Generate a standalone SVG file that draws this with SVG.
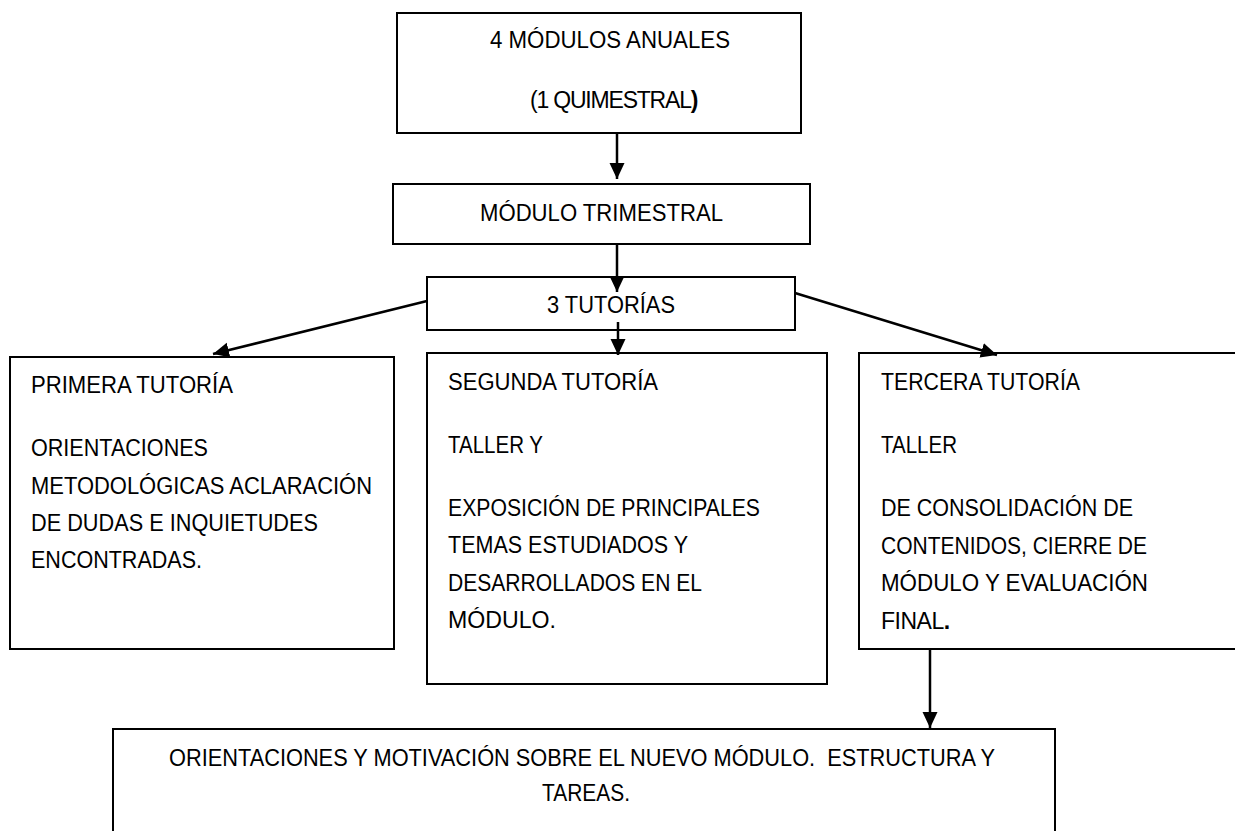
<svg xmlns="http://www.w3.org/2000/svg" width="1235" height="831" viewBox="0 0 1235 831">
<defs>
<style>
.box{fill:#fff;stroke:#000;stroke-width:2}
.t{font-family:"Liberation Sans",Arial,sans-serif;font-size:23px;fill:#000}
.b{font-weight:bold}
.c{fill:none;stroke:#000;stroke-width:2.5}
</style>
<marker id="ah" markerUnits="userSpaceOnUse" markerWidth="17" markerHeight="16" refX="16" refY="7.5" orient="auto">
<path d="M0,0 L16,7.5 L0,15 z" fill="#000"/>
</marker>
</defs>
<rect width="1235" height="831" fill="#fff"/>

<g id="n-anuales">
<rect class="box" x="397" y="13" width="404" height="120"/>
<text class="t" x="490" y="48" textLength="240" lengthAdjust="spacingAndGlyphs">4 MÓDULOS ANUALES</text>
<text class="t" x="530" y="108" letter-spacing="-1.2">(1 QUIMESTRAL<tspan class="b">)</tspan></text>
</g>

<g id="n-trimestral">
<rect class="box" x="393" y="184" width="417" height="60"/>
<text class="t" x="480" y="221" textLength="243" lengthAdjust="spacingAndGlyphs">MÓDULO TRIMESTRAL</text>
</g>

<g id="n-tutorias">
<rect class="box" x="427" y="277" width="368" height="53"/>
<text class="t" x="547" y="313" textLength="128" lengthAdjust="spacingAndGlyphs">3 TUTORÍAS</text>
</g>

<g id="n-primera">
<rect class="box" x="10" y="357" width="384" height="292"/>
<text class="t" x="31" y="393" textLength="202" lengthAdjust="spacingAndGlyphs">PRIMERA TUTORÍA</text>
<text class="t" x="31" y="456" textLength="177" lengthAdjust="spacingAndGlyphs">ORIENTACIONES</text>
<text class="t" x="31" y="494" textLength="341" lengthAdjust="spacingAndGlyphs">METODOLÓGICAS ACLARACIÓN</text>
<text class="t" x="31" y="531" textLength="287" lengthAdjust="spacingAndGlyphs">DE DUDAS E INQUIETUDES</text>
<text class="t" x="31" y="568" textLength="171" lengthAdjust="spacingAndGlyphs">ENCONTRADAS.</text>
</g>

<g id="n-segunda">
<rect class="box" x="427" y="353" width="400" height="331"/>
<text class="t" x="448" y="390" textLength="210" lengthAdjust="spacingAndGlyphs">SEGUNDA TUTORÍA</text>
<text class="t" x="448" y="453" textLength="95" lengthAdjust="spacingAndGlyphs">TALLER Y</text>
<text class="t" x="448" y="516" textLength="312" lengthAdjust="spacingAndGlyphs">EXPOSICIÓN DE PRINCIPALES</text>
<text class="t" x="448" y="553" textLength="240" lengthAdjust="spacingAndGlyphs">TEMAS ESTUDIADOS Y</text>
<text class="t" x="448" y="591" textLength="254" lengthAdjust="spacingAndGlyphs">DESARROLLADOS EN EL</text>
<text class="t" x="448" y="628" textLength="108" lengthAdjust="spacingAndGlyphs">MÓDULO.</text>
</g>

<g id="n-tercera">
<rect class="box" x="859" y="353" width="390" height="296"/>
<text class="t" x="881" y="390" textLength="199" lengthAdjust="spacingAndGlyphs">TERCERA TUTORÍA</text>
<text class="t" x="881" y="453" textLength="76" lengthAdjust="spacingAndGlyphs">TALLER</text>
<text class="t" x="881" y="516" textLength="252" lengthAdjust="spacingAndGlyphs">DE CONSOLIDACIÓN DE</text>
<text class="t" x="881" y="554" textLength="266" lengthAdjust="spacingAndGlyphs">CONTENIDOS, CIERRE DE</text>
<text class="t" x="881" y="591" textLength="267" lengthAdjust="spacingAndGlyphs">MÓDULO Y EVALUACIÓN</text>
<text class="t" x="881" y="629" letter-spacing="-0.5">FINAL<tspan class="b">.</tspan></text>
</g>

<g id="n-nuevo">
<rect class="box" x="113" y="729" width="942" height="120"/>
<text class="t" x="169" y="766" textLength="826" lengthAdjust="spacingAndGlyphs" xml:space="preserve">ORIENTACIONES Y MOTIVACIÓN SOBRE EL NUEVO MÓDULO.  ESTRUCTURA Y</text>
<text class="t" x="542" y="801" textLength="88" lengthAdjust="spacingAndGlyphs">TAREAS.</text>
</g>

<g id="connectors">
<line class="c" x1="617" y1="134" x2="617" y2="179" marker-end="url(#ah)"/>
<line class="c" x1="617" y1="244" x2="617" y2="292" marker-end="url(#ah)"/>
<line class="c" x1="618" y1="322" x2="618" y2="355" marker-end="url(#ah)"/>
<line class="c" x1="427" y1="301" x2="213" y2="354" marker-end="url(#ah)"/>
<line class="c" x1="795" y1="293" x2="997" y2="355" marker-end="url(#ah)"/>
<line class="c" x1="930" y1="649" x2="930" y2="728" marker-end="url(#ah)"/>
</g>
</svg>
